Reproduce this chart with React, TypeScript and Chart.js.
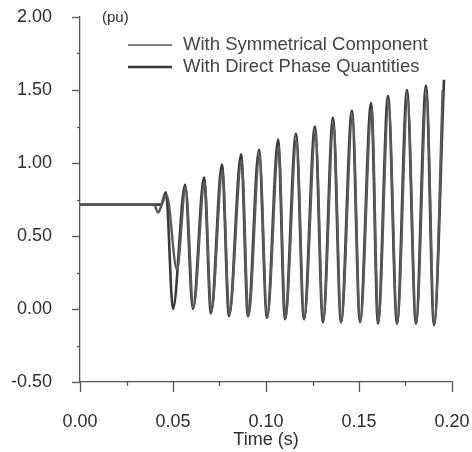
import React, { useEffect, useRef } from "react";
import { Chart, registerables } from "chart.js";

Chart.register(...registerables);

// ---- data ----
const directTimes = [
  0, 0.0435, 0.0462, 0.0500, 0.0565, 0.0607, 0.0667, 0.0704, 0.0763, 0.0801,
  0.0866, 0.0903, 0.0962, 0.1005, 0.1065, 0.1102, 0.1161, 0.1204, 0.1263, 0.1306,
  0.1360, 0.1403, 0.1462, 0.1505, 0.1565, 0.1602, 0.1656, 0.1704, 0.1758, 0.1806,
  0.1860, 0.1903, 0.1957,
];
const directValues = [
  0.715, 0.715, 0.80, 0.00, 0.85, 0.00, 0.90, -0.03, 0.99, -0.05,
  1.06, -0.05, 1.09, -0.06, 1.16, -0.07, 1.20, -0.07, 1.25, -0.09,
  1.31, -0.09, 1.36, -0.09, 1.41, -0.10, 1.46, -0.10, 1.50, -0.10,
  1.53, -0.11, 1.57,
];

const symTimes = [
  0, 0.0398, 0.0420, 0.0440, 0.0466, 0.0521, 0.0568, 0.0610, 0.0670, 0.0706,
  0.0766, 0.0803, 0.0869, 0.0906, 0.0965, 0.1007, 0.1068, 0.1104, 0.1164, 0.1206,
  0.1266, 0.1308, 0.1363, 0.1405, 0.1465, 0.1507, 0.1568, 0.1604, 0.1659, 0.1706,
  0.1761, 0.1808, 0.1863, 0.1905, 0.1950,
];
const symValues = [
  0.715, 0.715, 0.66, 0.715, 0.78, 0.27, 0.83, 0.01, 0.87, -0.02,
  0.95, -0.04, 1.02, -0.05, 1.05, -0.06, 1.12, -0.07, 1.16, -0.07,
  1.21, -0.08, 1.27, -0.09, 1.32, -0.09, 1.37, -0.09, 1.41, -0.10,
  1.44, -0.10, 1.47, -0.10, 1.50,
];

const seriesLabels = ["With Symmetrical Component", "With Direct Phase Quantities"];
const yUnit = "(pu)";
const xTitle = "Time (s)";
const yMajorTicks = [-0.5, 0, 0.5, 1.0, 1.5, 2.0];
const yMinorTicks = [-0.25, 0.25, 0.75, 1.25, 1.75];
const xMajorTicks = [0, 0.05, 0.1, 0.15, 0.2];
const xMinorTicks = [0.025, 0.075, 0.125, 0.175];

const AXIS = "#555";
const TEXT = "#2e2e2e";
const SYM_COLOR = "#5a5a5a";
const DIR_COLOR = "#3a3a3a";
const FONT = "'Liberation Sans', Arial, sans-serif";

const zeroPad = (s: any) => {
  s.paddingTop = 0;
  s.paddingBottom = 0;
  s.paddingLeft = 0;
  s.paddingRight = 0;
};

const decor = {
  id: "decor",
  afterDraw(chart: any) {
    const { ctx, chartArea, scales } = chart;
    const xs = scales.x;
    const ys = scales.y;
    ctx.save();
    ctx.strokeStyle = AXIS;
    ctx.lineWidth = 1.3;
    const seg = (x1: number, y1: number, x2: number, y2: number) => {
      ctx.beginPath();
      ctx.moveTo(x1, y1);
      ctx.lineTo(x2, y2);
      ctx.stroke();
    };
    for (const v of yMajorTicks) {
      const p = Math.round(ys.getPixelForValue(v)) + 0.5;
      seg(chartArea.left - 8, p, chartArea.left, p);
    }
    for (const v of yMinorTicks) {
      const p = Math.round(ys.getPixelForValue(v)) + 0.5;
      seg(chartArea.left - 3, p, chartArea.left, p);
    }
    for (const v of xMajorTicks) {
      const p = Math.round(xs.getPixelForValue(v)) + 0.5;
      seg(p, chartArea.bottom, p, chartArea.bottom + 10);
    }
    for (const v of xMinorTicks) {
      const p = Math.round(xs.getPixelForValue(v)) + 0.5;
      seg(p, chartArea.bottom, p, chartArea.bottom + 4);
    }
    // unit label
    ctx.fillStyle = TEXT;
    ctx.font = `15px ${FONT}`;
    ctx.textBaseline = "middle";
    ctx.textAlign = "left";
    ctx.fillText(yUnit, 102, 18);
    // legend
    const legend = [
      { label: seriesLabels[0], color: SYM_COLOR, width: 1.6, y: 45 },
      { label: seriesLabels[1], color: DIR_COLOR, width: 2.6, y: 67 },
    ];
    ctx.font = `18.5px ${FONT}`;
    for (const l of legend) {
      ctx.strokeStyle = l.color;
      ctx.lineWidth = l.width;
      seg(128, l.y, 172, l.y);
      ctx.fillStyle = "#444";
      ctx.fillText(l.label, 183, l.y);
    }
    ctx.restore();
  },
};

export default function App() {
  const ref = useRef<HTMLCanvasElement | null>(null);
  useEffect(() => {
    if (!ref.current) return;
    const chart = new Chart(ref.current, {
      type: "line",
      data: {
        datasets: [
          {
            label: seriesLabels[0],
            data: symTimes.map((t, i) => ({ x: t, y: symValues[i] })),
            borderColor: SYM_COLOR,
            borderWidth: 2.4,
            pointRadius: 0,
            cubicInterpolationMode: "monotone",
            fill: false,
          },
          {
            label: seriesLabels[1],
            data: directTimes.map((t, i) => ({ x: t, y: directValues[i] })),
            borderColor: DIR_COLOR,
            borderWidth: 2.6,
            pointRadius: 0,
            cubicInterpolationMode: "monotone",
            fill: false,
          },
        ],
      },
      options: {
        animation: false,
        responsive: false,
        maintainAspectRatio: false,
        layout: { padding: { left: 0, right: 20, top: 17, bottom: 0 } },
        plugins: { legend: { display: false }, tooltip: { enabled: false } },
        scales: {
          x: {
            type: "linear",
            min: 0,
            max: 0.2,
            grid: { drawOnChartArea: false, drawTicks: false },
            border: { display: true, color: AXIS, width: 1.3 },
            ticks: {
              stepSize: 0.05,
              padding: 29,
              color: TEXT,
              font: { size: 18, family: FONT },
              maxRotation: 0,
              callback: (v: any) => Number(v).toFixed(2),
            },
            title: {
              display: true,
              text: xTitle,
              color: TEXT,
              font: { size: 18, family: FONT },
              padding: { top: 0, bottom: 1 },
            },
            afterFit: (s: any) => {
              s.height = 70;
              zeroPad(s);
            },
          },
          y: {
            min: -0.5,
            max: 2,
            grid: { drawOnChartArea: false, drawTicks: false },
            border: { display: true, color: AXIS, width: 1.3 },
            ticks: {
              stepSize: 0.5,
              padding: 28,
              color: TEXT,
              font: { size: 18, family: FONT },
              callback: (v: any) => Number(v).toFixed(2),
            },
            afterFit: (s: any) => {
              s.width = 80;
              zeroPad(s);
            },
          },
        },
      },
      plugins: [decor],
    });
    return () => chart.destroy();
  }, []);
  return (
    <div style={{ position: "absolute", left: 0, top: 0, width: 472, height: 452, background: "#fff" }}>
      <canvas ref={ref} width={472} height={452} style={{ display: "block" }} />
    </div>
  );
}
